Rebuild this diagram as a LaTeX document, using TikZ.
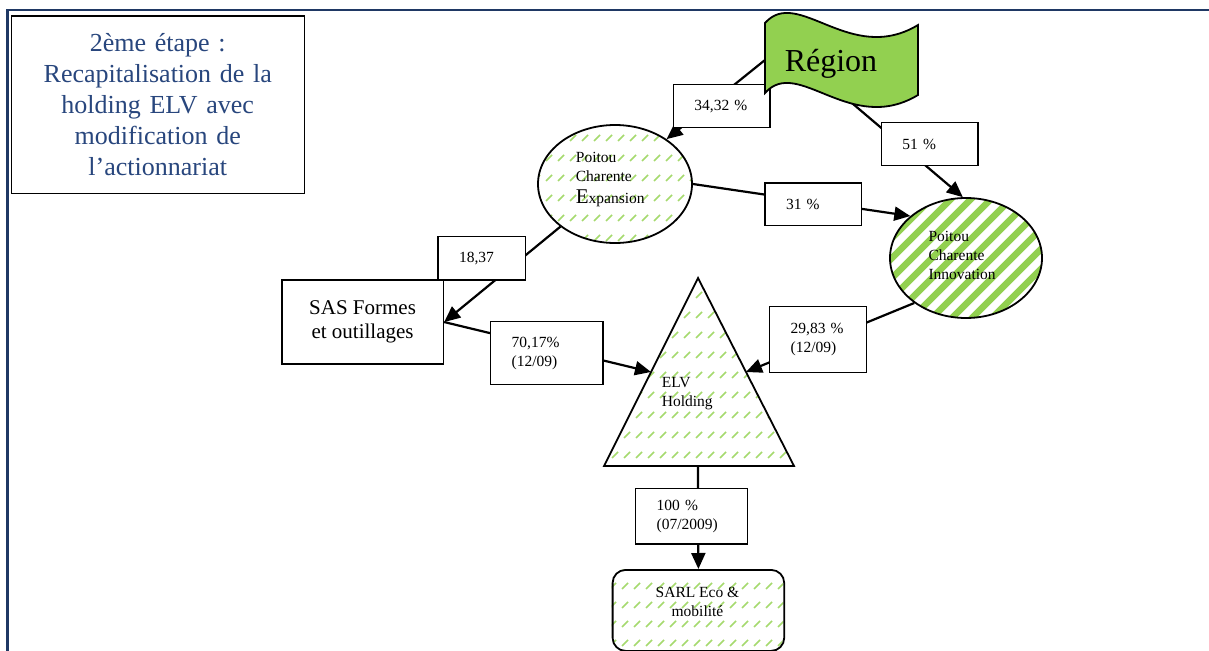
\documentclass[tikz,border=0pt]{standalone}
\usepackage{fontspec}
\setmainfont{Liberation Serif}
\usetikzlibrary{arrows.meta,shapes.geometric,calc}
\definecolor{frameblue}{RGB}{31,56,100}
\definecolor{titleblue}{RGB}{40,70,125}
\definecolor{flaggreen}{RGB}{146,208,80}
\definecolor{dashgreen}{RGB}{165,218,110}
\newcommand\tsmall{\fontsize{15.5}{19}\selectfont}
\begin{document}
\begin{tikzpicture}[x=1pt,y=-1pt,
  conn/.style={line width=2.2pt,-{Triangle[length=16pt,width=14pt]}},
  lbl/.style={draw,fill=white,line width=1.4pt,align=left,inner xsep=21pt,inner ysep=0pt,font=\tsmall,anchor=north west},
  shapeline/.style={line width=1.8pt},
  dsh/.style={draw=dashgreen,line width=1.5pt},
  txt/.style={inner sep=0pt,font=\tsmall,align=left,anchor=base west}]
\useasboundingbox (0,0) rectangle (1209,650);
\fill[white] (0,0) rectangle (1209,650);
% frame
\draw[frameblue,line width=2.5pt] (7.7,651) -- (7.7,10) -- (1210,10);
% title
\node[draw,line width=1.5pt,minimum width=293,minimum height=177,anchor=north west,
      text width=285,align=center,inner sep=0pt,text=titleblue,
      font=\fontsize{26}{31}\selectfont] (title) at (10.5,15.5)
  {2ème étape :\\Recapitalisation de la\\holding ELV avec\\modification de\\l’actionnariat};
% patterns
\begin{scope}
  \clip (615,184) ellipse [x radius=77, y radius=59];
  \foreach \r in {0,...,6} \foreach \c in {0,...,14}
    \draw[dsh] ({534+12*\c},{121+20*\r}) -- ++(6,-6);
\end{scope}
\begin{scope}
  \clip (966,258) ellipse [x radius=76, y radius=60];
  \foreach \k in {-8,...,8}
    \draw[flaggreen,line width=6.5pt] ({960+20*\k},330) -- ++(150,-150);
\end{scope}
\begin{scope}
  \clip (698,278) -- (794,466) -- (604,466) -- cycle;
  \foreach \r in {-1,...,8} \foreach \c in {0,...,16}
    \draw[dsh] ({600+12*\c},{298+20*\r}) -- ++(6,-6);
\end{scope}
\begin{scope}
  \clip[rounded corners=13pt] (611.7,569) rectangle (783.3,650);
  \foreach \r in {-1,...,4} \foreach \c in {0,...,15}
    \draw[dsh] ({610+12*\c},{589+19*\r}) -- ++(6,-6);
\end{scope}
% shapes
\node[draw,ellipse,shapeline,minimum width=154,minimum height=118,inner sep=0pt] (pce) at (615,184) {};
\node[draw,ellipse,shapeline,minimum width=152,minimum height=120,inner sep=0pt] (pci) at (966,258) {};
\draw[shapeline] (698,278) coordinate (elvA) -- (794,466) coordinate (elvR) -- (604,466) coordinate (elvL) -- cycle;
\coordinate (elvB) at (698,466);
\node[draw,line width=1.5pt,minimum width=161.7,minimum height=84,align=center,inner sep=0pt,
      font=\fontsize{21}{24}\selectfont,anchor=north west] (sas) at (281,279.3) {SAS Formes\\et outillages};
\node[draw,shapeline,rounded corners=13pt,minimum width=171.6,minimum height=81,inner sep=0pt,anchor=north west] (sarl) at (611.7,569) {};
\coordinate (regL) at (765,60);
\coordinate (regB) at (846,98);
% connectors
\draw[conn] (regL) -- (pce.41);
\draw[conn] (regB) -- (pci.93);
\draw[conn] (pce.east) -- (pci.143);
\draw[conn] (pce.218) -- (sas.east);
\draw[conn] (sas.east) -- ($(elvA)!0.5!(elvL)$);
\draw[conn] (pci.221) -- ($(elvA)!0.5!(elvR)$);
\draw[conn] (elvB) -- (sarl.north);
% labels
\node[lbl,text width=54.6,minimum height=42.7] (l1) at (672.7,84) {34,32 \%};
\node[lbl,text width=54.6,minimum height=43.3] (l2) at (880.7,121.7) {51 \%};
\node[lbl,text width=54.7,minimum height=42.7] (l3) at (764.3,182.3) {31 \%};
\node[lbl,text width=45.7,minimum height=43.3] (l4) at (437.3,236) {18,37};
\node[lbl,text width=70.3,minimum height=63.3] (l5) at (490,320.7) {70,17\%\\(12/09)};
\node[lbl,text width=54.7,minimum height=66] (l6) at (769,305.7) {29,83 \%\\(12/09)};
\node[lbl,text width=69.7,minimum height=55.6] (l7) at (635,487.7) {100 \%\\(07/2009)};
% flag
\draw[fill=flaggreen,line width=1.8pt] (765,23) .. controls (798,-14) and (850,66) .. (918,25)
  -- (918,95) .. controls (850,136) and (798,56) .. (765,93) -- cycle;
\node[inner sep=0pt,anchor=base,font=\fontsize{32}{38}\selectfont] (regT) at (831,71.7) {Région};
% texts (anchor = baseline of last line)
\node[txt] (pceT) at (575.7,203) {Poitou\\Charente\\[3pt]{\fontsize{21}{22}\selectfont E}xpansion};
\node[txt] (pciT) at (928.3,279) {Poitou\\Charente\\Innovation};
\node[txt] (elvT) at (661.7,406.7) {ELV\\Holding};
\node[txt,align=center,anchor=base] (sarlT) at (697.5,616.7) {SARL Eco \&\\mobilité};
\end{tikzpicture}
\end{document}
